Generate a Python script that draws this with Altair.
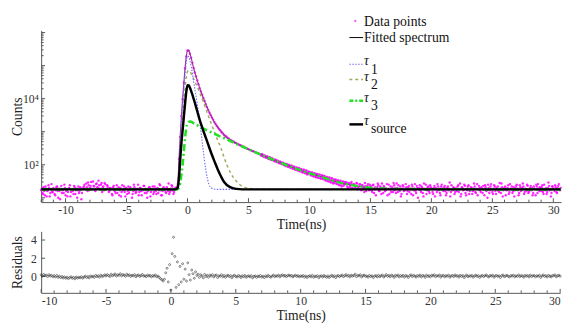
import altair as alt
import numpy as np
import pandas as pd

FONT = "Liberation Serif, Times New Roman, DejaVu Serif, serif"

# ---------------- fitted curve and components (time in ns, counts) ----------------
fit_t = [-12, -1.0, -0.8, -0.7, -0.6, -0.5, -0.4, -0.3, -0.2, -0.1,
         0, 0.1, 0.2, 0.3, 0.4, 0.5, 0.6, 0.8, 1.0, 1.25,
         1.5, 1.75, 2.0, 2.25, 2.5, 2.75, 3.0, 3.5, 4.0, 4.5,
         5.0, 5.5, 6, 7, 8, 9, 10, 11, 12, 13,
         14, 15, 16, 17, 18, 20, 25, 30.6]

fitted = [18, 18, 27, 141, 713, 2929, 9717, 30050, 83840, 187700,
          288500, 284100, 230700, 172000, 121800, 84690, 62340, 35690, 20900, 11680,
          6833, 4125, 2690, 1824, 1330, 1024, 796, 569, 447, 361,
          296, 245, 204, 143, 102, 74, 55, 43, 32, 26,
          22.4, 20, 19, 18.6, 18.4, 18.2, 18, 18]

tau1 = [18, 18, 22, 79, 398, 1778, 6310, 19950, 56230, 125900,
        195000, 186200, 141300, 95500, 58880, 33110, 19950, 7079, 2138, 355,
        71, 26, 19.5, 18.2, 18, 18, 18, 18, 18, 18,
        18, 18, 18, 18, 18, 18, 18, 18, 18, 18,
        18, 18, 18, 18, 18, 18, 18, 18]

tau2 = [18, 18, 21, 56, 200, 708, 2239, 7079, 19950, 44670,
        66070, 70800, 66070, 57540, 47860, 39810, 33110, 22910, 15140, 8913,
        5012, 2754, 1585, 891, 525, 316, 166, 60, 32, 22,
        19.5, 18.4, 18.1, 18, 18, 18, 18, 18, 18, 18,
        18, 18, 18, 18, 18, 18, 18, 18]

tau3 = [18, 18, 18.2, 20, 28, 50, 100, 251, 631, 1318,
        1820, 1995, 2042, 1995, 1905, 1820, 1738, 1585, 1392, 1261,
        1143, 1036, 939, 852, 772, 700, 636, 524, 432, 357,
        295, 245, 204, 143, 102, 74, 55, 43, 32, 26,
        22.4, 20, 19, 18.6, 18.4, 18.2, 18, 18]

tau_source = [18, 18, 20, 40, 141, 447, 1122, 2818, 7079, 15850,
              25700, 25120, 21380, 16980, 13180, 10000, 7586, 4169, 2291, 1202,
              661, 363, 200, 117, 69, 44, 30, 21, 18.6, 18,
              18, 18, 18, 18, 18, 18, 18, 18, 18, 18,
              18, 18, 18, 18, 18, 18, 18, 18]

# ---------------- measured spectrum, channels every 0.1 ns from -12.0 ns ----------------
counts_pre = [17, 14, 21, 12, 19, 16, 24, 11, 18, 15, 20, 13, 17, 22, 10, 16, 19, 14, 18, 25,
              12, 17, 15, 20, 11, 18, 16, 23, 13, 19, 17, 14, 21, 9, 18,
              22, 19, 27, 16, 24, 20, 30, 18, 23, 17, 26, 21, 33, 19, 25, 15, 22, 28, 18, 24, 20,
              16, 19, 13, 21, 17, 14, 24, 18, 12, 20, 15, 17, 22, 11, 19, 16, 14, 21, 18, 13,
              25, 17, 15, 19, 12, 20, 16, 18, 23, 14, 17, 10, 19, 21, 15, 18, 13, 22, 16, 19,
              14, 26, 17, 12, 20, 18, 15, 21, 16, 13, 19, 24, 17, 15, 20]
counts_peak = [21, 26, 150, 690, 2980, 9600, 30400, 83200, 188500, 287600,
               284900, 230100, 172500, 121300, 85000, 62100, 47400, 35500, 27400, 20800,
               16600, 13100, 10450, 8500, 6850, 5560, 4580, 3760, 3200, 2680,
               2320, 1960, 1720, 1500, 1340, 1190, 1085, 965, 888, 800,
               738, 702, 645, 615, 566, 548, 510, 498, 465, 452,
               424, 415, 388, 381, 358, 350, 330, 324, 305, 298,
               281, 278, 260, 258, 243, 239, 224, 223, 209, 206]
counts_tail = [209, 181, 192, 168, 178, 157, 166, 147, 155, 138,
               131, 142, 122, 133, 114, 124, 107, 116, 99, 108,
               105, 89, 99, 84, 94, 78, 88, 73, 82, 69,
               78, 64, 73, 60, 70, 57, 66, 52, 62, 58,
               49, 58, 46, 55, 43, 52, 41, 50, 39, 47,
               38, 46, 35, 42, 33, 40, 31, 38, 29, 36,
               34, 27, 33, 25, 31, 24, 30, 23, 29, 27,
               22, 28, 21, 27, 20, 26, 24, 19, 27, 21,
               25, 18, 24, 19, 15, 23, 20, 26, 17, 22,
               17, 24, 14, 21, 19, 27, 16, 22, 13, 20,
               23, 16, 19, 12, 25, 18, 15, 21, 28, 17,
               14, 20, 24, 16, 11, 19, 22, 17, 26, 13,
               21, 15, 18, 25, 12, 19, 16, 23, 10, 20,
               17, 22, 14, 27, 18, 13, 21, 16, 24, 19,
               15, 20, 11, 18, 26, 17, 14, 22, 19, 16,
               23, 12, 20, 17, 29, 15, 18, 21, 13, 19,
               16, 24, 18, 11, 21, 17, 25, 14, 19, 22,
               13, 18, 20, 16, 27, 15, 19, 12, 23, 17,
               21, 14, 18, 24, 16, 10, 20, 17, 26, 15,
               19, 22, 13, 18, 16, 28, 14, 21, 17, 20,
               12, 18, 24, 15, 19, 22, 16, 11, 20, 25,
               17, 14, 21, 18, 27, 13, 19, 16, 23, 15,
               20, 17, 12, 22, 18, 25, 14, 19, 21, 16,
               24, 13, 18, 20, 15, 29, 17, 11, 22, 19,
               16, 21, 14, 23, 18, 20]

# half-channel readings (every 0.1 ns from -11.95 ns and from 6.05 ns)
counts_pre_b = [19, 13, 16, 22, 11, 17, 20, 14, 26, 15, 18, 12, 21, 16, 19, 9, 23, 17, 14, 20,
                16, 11, 19, 24, 15, 18, 13, 21, 17, 10, 22, 16, 19, 14, 20,
                25, 18, 21, 29, 17, 23, 19, 31, 22, 16, 27, 20, 24, 18, 28, 21, 17, 26, 19, 23,
                15, 20, 18, 12, 23, 16, 19, 14, 21, 17, 11, 24, 18, 15, 20, 13, 22, 17, 19, 10,
                16, 21, 14, 18, 25, 15, 20, 12, 17, 23, 19, 14, 16, 21, 11, 18, 22, 15, 19, 13,
                20, 17, 24, 12, 16, 21, 18, 14, 19, 27, 15, 17, 22, 13, 18]
counts_tail_b = [188, 204, 175, 189, 163, 177, 150, 168, 141, 154,
                 148, 127, 139, 118, 131, 110, 122, 104, 114, 97,
                 92, 106, 87, 99, 81, 93, 76, 88, 70, 83,
                 67, 80, 63, 74, 58, 71, 55, 67, 51, 62,
                 60, 47, 57, 44, 55, 42, 53, 40, 50, 38,
                 48, 36, 45, 33, 43, 31, 41, 29, 39, 27,
                 28, 36, 26, 34, 24, 33, 22, 31, 25, 30,
                 29, 20, 27, 23, 30, 19, 26, 21, 28, 18,
                 19, 26, 17, 24, 21, 28, 16, 23, 19, 25,
                 22, 15, 25, 18, 12, 21, 24, 16, 20, 27,
                 14, 21, 17, 26, 19, 13, 22, 18, 15, 24,
                 20, 27, 15, 18, 22, 13, 24, 16, 19, 21,
                 16, 23, 19, 13, 22, 17, 26, 14, 20, 18,
                 24, 15, 20, 11, 19, 25, 17, 22, 14, 21,
                 18, 13, 23, 20, 15, 22, 19, 12, 25, 17,
                 21, 16, 14, 22, 19, 11, 24, 17, 20, 15,
                 19, 22, 15, 27, 13, 20, 18, 23, 12, 17,
                 24, 16, 21, 13, 19, 22, 14, 26, 18, 20,
                 15, 19, 23, 12, 21, 17, 25, 14, 22, 18,
                 13, 24, 16, 20, 22, 15, 19, 27, 11, 18,
                 22, 17, 20, 13, 26, 18, 14, 21, 17, 23,
                 19, 12, 24, 16, 20, 22, 15, 18, 25, 14,
                 17, 23, 20, 14, 19, 12, 22, 26, 16, 20,
                 21, 15, 25, 17, 13, 20, 23, 18, 14, 22,
                 18, 24, 15, 20, 26, 17]

# ---------------- residuals, channels every 0.1 ns from -10.0 ns ----------------
res_pre = [0.18, 0.02, 0.22, 0.08, 0.15, -0.02, 0.19, 0.05, 0.12, -0.04,
           0.09, -0.06, 0.11, -0.1, 0.03, -0.13, 0.0, -0.17, -0.05, -0.2,
           -0.08, -0.24, -0.12, -0.03, -0.21, -0.1, -0.26, -0.06, -0.18, -0.09,
           -0.15, -0.02, -0.19, -0.07, 0.04, -0.12, -0.01, -0.16, 0.06, -0.05,
           0.03, -0.1, 0.12, -0.02, 0.08, -0.08, 0.15, 0.0, 0.06, 0.18,
           0.05, 0.2, 0.1, -0.01, 0.24, 0.08, 0.16, 0.27, 0.04, 0.19,
           0.12, 0.3, 0.06, 0.21, 0.14, 0.02, 0.25, 0.1, 0.18, 0.0,
           0.13, 0.07, 0.2, -0.03, 0.11, 0.16, 0.01, 0.09, 0.22, 0.04,
           0.08, -0.02, 0.15, 0.05, 0.12, -0.05, 0.1, 0.02, 0.17, -0.03,
           0.04]
res_peak = [-0.1, -0.25, -0.35, -0.5, -0.3, 0.4, 0.9, -0.6, 1.3, -1.5,
            2.5, 4.3, 2.2, -1.2, 1.6, -0.9, 1.1, -0.6, 1.4, -0.3,
            0.8, -0.5, 1.5, 0.2, -0.4, 0.7, 0.3, -0.2, 0.5, 0.1]
res_tail = [0.25, -0.1, 0.18, 0.05, -0.15, 0.22, 0.0, 0.12, -0.08, 0.15,
            0.04, 0.2, -0.06, 0.1, 0.16, -0.12, 0.08, 0.02, 0.19, -0.04,
            0.11, -0.09, 0.06, 0.14, -0.02, 0.09, -0.14, 0.05, 0.13, 0.0,
            -0.07, 0.1, 0.03, -0.12, 0.08, -0.03, 0.12, -0.1, 0.02, 0.07,
            -0.05, 0.09, -0.15, 0.01, 0.06, -0.1, 0.04, -0.02, 0.1, -0.08,
            0.03, -0.12, 0.07, -0.04, 0.12, 0.0, -0.09, 0.05, 0.15, -0.03,
            0.08, 0.02, 0.14, -0.05, 0.1, 0.18, 0.03, 0.12, -0.02, 0.09,
            0.15, 0.04, 0.11, -0.06, 0.07, 0.13, 0.01, 0.09, -0.04, 0.06,
            0.0, 0.1, -0.08, 0.05, -0.12, 0.02, 0.08, -0.05, 0.12, -0.1,
            0.04, -0.02, 0.09, -0.14, 0.03, 0.07, -0.06, 0.11, 0.0, -0.09,
            0.06, -0.11, 0.02, 0.13, -0.04, 0.08, -0.13, 0.05, 0.1, -0.02,
            0.07, 0.16, -0.03, 0.09, 0.2, 0.02, 0.12, -0.05, 0.14, 0.04,
            0.1, 0.25, -0.02, 0.13, 0.06, 0.18, -0.06, 0.09, 0.15, 0.01,
            0.05, -0.08, 0.11, 0.0, 0.07, -0.12, 0.04, 0.09, -0.05, 0.12,
            -0.03, 0.08, 0.15, -0.07, 0.06, 0.2, 0.01, 0.11, -0.04, 0.14,
            0.07, -0.1, 0.12, 0.03, 0.17, -0.05, 0.09, 0.0, 0.13, -0.08,
            0.1, 0.04, -0.11, 0.08, 0.18, -0.02, 0.12, 0.05, -0.07, 0.1,
            0.02, 0.15, -0.06, 0.11, 0.07, -0.1, 0.14, 0.0, 0.09, -0.04,
            0.13, 0.06, 0.19, -0.03, 0.1, 0.03, 0.16, -0.08, 0.08, 0.12,
            -0.05, 0.09, 0.02, 0.14, -0.09, 0.06, 0.11, -0.02, 0.17, 0.04,
            0.08, -0.07, 0.12, 0.01, 0.1, -0.12, 0.05, 0.15, -0.04, 0.07,
            0.03, 0.11, -0.08, 0.06, 0.14, 0.0, 0.09, -0.1, 0.04, 0.12,
            -0.02, 0.08, 0.16, 0.03, -0.06, 0.1, 0.05, 0.13, -0.09, 0.07,
            0.11, 0.0, 0.07, -0.11, 0.09, 0.15, -0.03, 0.06, 0.12, 0.02,
            -0.07, 0.1, 0.04, 0.14, -0.05, 0.08, 0.01, 0.17, -0.02, 0.09,
            0.05, -0.09, 0.12, 0.03, 0.1, -0.06, 0.15, 0.0, 0.07, 0.11,
            -0.04, 0.08, 0.02, 0.13, -0.1, 0.06, 0.16, 0.01, 0.09, -0.07,
            0.12, 0.04, -0.05, 0.1, 0.07, 0.18, -0.03, 0.06, 0.14, 0.02]

x_labels = [-10, -5, 0, 5, 10, 15, 20, 25, 30]

# ---------------- frames ----------------
counts = counts_pre + counts_peak + counts_tail
df_counts = pd.concat([
    pd.DataFrame({"t": np.round(-12.0 + 0.1 * np.arange(len(counts)), 2), "counts": counts}),
    pd.DataFrame({"t": np.round(-11.95 + 0.1 * np.arange(len(counts_pre_b)), 2), "counts": counts_pre_b}),
    pd.DataFrame({"t": np.round(6.05 + 0.1 * np.arange(len(counts_tail_b)), 2), "counts": counts_tail_b}),
], ignore_index=True)
res = res_pre + res_peak + res_tail
df_res = pd.DataFrame({"t": np.round(-10.0 + 0.1 * np.arange(len(res)), 2), "res": res})


def comp(vals):
    return pd.DataFrame({"t": fit_t, "counts": vals})


W1, H1 = 533, 176
W2, H2 = 532, 63
AX = "#555555"
TXT = "#222222"

axis_common = dict(tickSize=0, domainColor=AX, labelColor="#333333", titleColor=TXT,
                   labelFont=FONT, titleFont=FONT, labelFontSize=12, titleFontSize=14,
                   titleFontWeight="normal", grid=False)

X_top = alt.X("t:Q", title="Time(ns)",
              scale=alt.Scale(domain=[-12, 30.64], nice=False, zero=False),
              axis=alt.Axis(values=x_labels, labelExpr="'' + datum.value",
                            labelPadding=3, titlePadding=2, **axis_common))
Y_top = alt.Y("counts:Q", title="Counts",
              scale=alt.Scale(type="log", domain=[7.4, 1.16e6], nice=False),
              axis=alt.Axis(values=[100, 10000],
                            labelExpr="datum.value == 100 ? '10²' : '10⁴'",
                            labelPadding=3, titleX=-17, **axis_common))

# tick marks drawn inward
xt_top = pd.DataFrame({"t": list(range(-12, 31))})
xt_top["major"] = xt_top["t"] % 5 == 0
y_major = [10, 100, 1000, 10000, 100000, 1000000]
y_minor = [m * 10 ** k for k in range(0, 6) for m in range(2, 10) if 7.4 <= m * 10 ** k <= 1.16e6]

one = pd.DataFrame({"k": [0]})

layers = [
    alt.Chart(xt_top[~xt_top.major]).mark_rule(color=AX).encode(x=X_top, y=alt.value(H1), y2=alt.value(H1 - 2.5)),
    alt.Chart(xt_top[xt_top.major]).mark_rule(color=AX).encode(x=X_top, y=alt.value(H1), y2=alt.value(H1 - 4)),
    alt.Chart(pd.DataFrame({"counts": y_minor})).mark_rule(color=AX).encode(y=Y_top, x=alt.value(0), x2=alt.value(2.5)),
    alt.Chart(pd.DataFrame({"counts": y_major})).mark_rule(color=AX).encode(y=Y_top, x=alt.value(0), x2=alt.value(4)),
    alt.Chart(df_counts).mark_circle(size=6, color="#ff00ff", opacity=0.85).encode(x=X_top, y=Y_top),
    alt.Chart(comp(fitted)).mark_line(color="#a030a0", strokeWidth=1.2, interpolate="monotone").encode(x=X_top, y=Y_top),
    alt.Chart(comp(tau2)).mark_line(color="#9aab5a", strokeWidth=1.5, strokeDash=[3, 3], interpolate="monotone").encode(x=X_top, y=Y_top),
    alt.Chart(comp(tau1)).mark_line(color="#6a6aff", strokeWidth=1.1, strokeDash=[1.5, 1.5], interpolate="monotone").encode(x=X_top, y=Y_top),
    alt.Chart(comp(tau3)).mark_line(color="#22e022", strokeWidth=2.6, strokeDash=[7, 3, 2, 3], interpolate="monotone").encode(x=X_top, y=Y_top),
    alt.Chart(comp(tau_source)).mark_line(color="#000000", strokeWidth=2.5, interpolate="monotone").encode(x=X_top, y=Y_top),
]

# ---------------- legend ----------------
LX1, LX2, TX = 316, 330, 331


def ltext(txt, x, y, italic=False):
    return alt.Chart(one).mark_text(text=txt, align="left", baseline="alphabetic", font=FONT,
                                    fontSize=14, fontStyle="italic" if italic else "normal",
                                    color="#111111").encode(x=alt.value(x), y=alt.value(y))


def lline(y, color, width, dash=None):
    kw = dict(color=color, strokeWidth=width)
    if dash:
        kw["strokeDash"] = dash
    return alt.Chart(one).mark_rule(**kw).encode(x=alt.value(LX1), x2=alt.value(LX2), y=alt.value(y))


legend = [
    alt.Chart(one).mark_circle(size=5, color="#ff00ff").encode(x=alt.value(322), y=alt.value(-9.7)),
    ltext("Data points", TX, -4.5),
    lline(7.3, "#000000", 1),
    ltext("Fitted spectrum", TX, 11.8),
    lline(34.7, "#6a6aff", 1.1, [1.5, 1.5]),
    ltext("τ", TX, 35, True), ltext("1", 338, 45),
    lline(50.3, "#9aab5a", 1.5, [3, 3]),
    ltext("τ", TX, 51.5, True), ltext("2", 338, 60),
    lline(72, "#22e022", 2.6, [4, 2, 2, 2]),
    ltext("τ", TX, 73, True), ltext("3", 338, 81.5),
    lline(96.3, "#000000", 2.5),
    ltext("τ", TX, 97, True), ltext("source", 338, 105),
]

top = alt.layer(*(layers + legend)).properties(width=W1, height=H1)

# ---------------- residual panel ----------------
X_bot = alt.X("t:Q", title="Time(ns)",
              scale=alt.Scale(domain=[-10, 30], nice=False, zero=False),
              axis=alt.Axis(values=x_labels, labelExpr="'' + datum.value",
                            labelPadding=3, titlePadding=2, **axis_common))
Y_bot = alt.Y("res:Q", title="Residuals",
              scale=alt.Scale(domain=[-1.8, 4.95], nice=False, zero=False),
              axis=alt.Axis(values=[0, 2, 4], labelPadding=5, titleX=-17, **axis_common))

xt_bot = pd.DataFrame({"t": list(range(-10, 31))})
xt_bot["major"] = xt_bot["t"] % 5 == 0

bottom = alt.layer(
    alt.Chart(xt_bot[~xt_bot.major]).mark_rule(color=AX).encode(x=X_bot, y=alt.value(H2), y2=alt.value(H2 - 2.5)),
    alt.Chart(xt_bot[xt_bot.major]).mark_rule(color=AX).encode(x=X_bot, y=alt.value(H2), y2=alt.value(H2 - 4)),
    alt.Chart(pd.DataFrame({"res": [0, 2, 4]})).mark_rule(color=AX).encode(y=Y_bot, x=alt.value(0), x2=alt.value(4)),
    alt.Chart(df_res).mark_point(size=4, strokeWidth=0.8, color="#222222", filled=False).encode(x=X_bot, y=Y_bot),
).properties(width=W2, height=H2)

chart = alt.vconcat(top, bottom, spacing=0).properties(
    padding={"left": 2, "top": 3, "right": 0, "bottom": 0}
).configure_view(stroke=None)

chart.save("out.html", embed_options={"renderer": "svg", "actions": False})
